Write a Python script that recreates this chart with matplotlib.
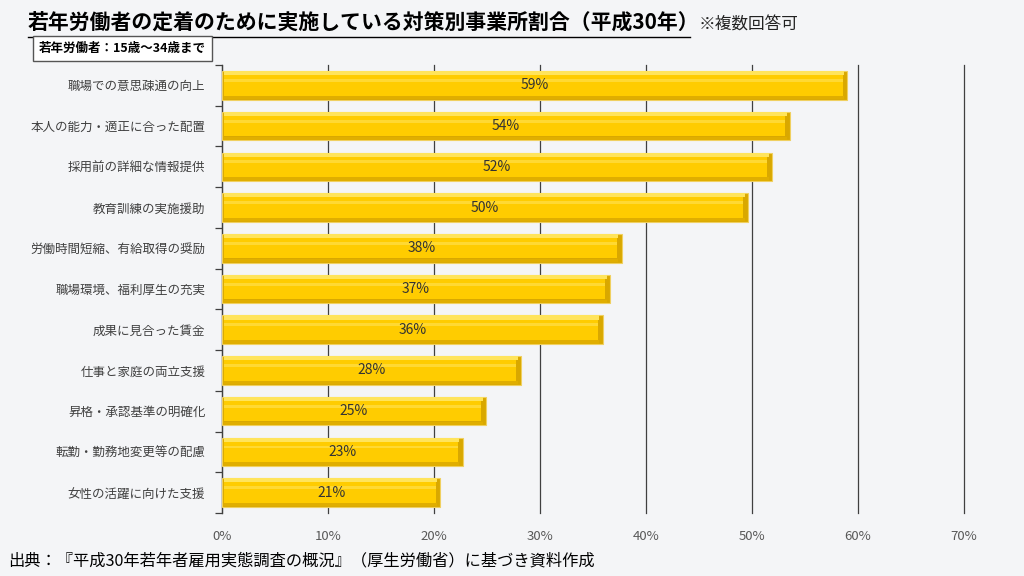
import matplotlib.pyplot as plt
import numpy as np

plt.rcParams['font.family'] = ['Noto Sans CJK JP', 'DejaVu Sans']

# データ（平成30年若年者雇用実態調査）
categories = [
    "職場での意思疎通の向上",
    "本人の能力・適正に合った配置",
    "採用前の詳細な情報提供",
    "教育訓練の実施援助",
    "労働時間短縮、有給取得の奨励",
    "職場環境、福利厚生の充実",
    "成果に見合った賃金",
    "仕事と家庭の両立支援",
    "昇格・承認基準の明確化",
    "転勤・勤務地変更等の配慮",
    "女性の活躍に向けた支援",
]
values = [59.0, 53.6, 51.9, 49.6, 37.7, 36.6, 35.9, 28.2, 24.9, 22.7, 20.6]
xticks = [0, 10, 20, 30, 40, 50, 60, 70]

bg = "#f4f5f7"
fig = plt.figure(figsize=(10.24, 5.76), dpi=100, facecolor=bg)
ax = fig.add_axes([0.2168, 0.1094, 0.7246, 0.7778], facecolor=bg)

y = np.arange(len(categories))
v = np.array(values)
h = 0.7
bv = 0.1    # 上下の面取り
bx = 0.45   # 右端の面取り

# 立体風の棒
ax.barh(y, v, height=h, color="#d9a800", edgecolor="#f0d060", linewidth=0.8, zorder=3)
ax.barh(y - h / 2 + bv / 2, v - bx, left=0.15, height=bv, color="#ffe45c", zorder=4)
ax.barh(y + h / 2 - bv / 2, v - bx, left=0.15, height=bv * 0.8, color="#e0ae00", zorder=4)
ax.barh(y, v - bx - 0.15, left=0.15, height=h - 2 * bv, color="#ffcc00", zorder=5)
ax.barh(y - 0.12, v - bx - 0.15, left=0.15, height=0.07, color="#ffd933", zorder=6)

for yi, vi in zip(y, v):
    ax.text(vi / 2, yi, f"{vi:.0f}%", ha="center", va="center",
            fontsize=10, color="#333333", zorder=7)

ax.set_xlim(0, 70)
ax.set_ylim(len(categories) - 0.5, -0.5)
ax.set_xticks(xticks)
ax.set_xticklabels([f"{t}%" for t in xticks], fontsize=9.5, color="#595959")
ax.tick_params(axis="x", length=0, pad=12)
ax.grid(axis="x", color="#404040", linewidth=0.9, zorder=0)
for gl in ax.get_xgridlines():
    gl.set_clip_on(False)

ax.set_yticks(y)
ax.set_yticklabels(categories, fontsize=9, color="#404040")
ax.set_yticks(np.arange(len(categories) + 1) - 0.5, minor=True)
ax.tick_params(axis="y", which="major", length=0, pad=12)
ax.tick_params(axis="y", which="minor", length=5, color="#404040", width=0.9)

for s in ["top", "right", "bottom"]:
    ax.spines[s].set_visible(False)
ax.spines["left"].set_color("#404040")
ax.spines["left"].set_linewidth(0.9)

# タイトル
fig.text(0.027, 0.96, "若年労働者の定着のために実施している対策別事業所割合（平成30年）",
         fontsize=15, fontweight="bold", color="#000000", va="center")
fig.lines.append(plt.Line2D([0.027, 0.674], [0.935, 0.935], color="#000000",
                            linewidth=1.0, transform=fig.transFigure))
fig.text(0.682, 0.957, "※複数回答可", fontsize=12, color="#222222", va="center")

fig.text(0.038, 0.916, "若年労働者：15歳〜34歳まで", fontsize=9, fontweight="bold",
         color="#000000", va="center",
         bbox=dict(boxstyle="square,pad=0.5", facecolor="white", edgecolor="#555555",
                   linewidth=1.0))

fig.text(0.008, 0.027, "出典：『平成30年若年者雇用実態調査の概況』（厚生労働省）に基づき資料作成",
         fontsize=11.7, color="#000000", va="center")

fig.savefig("out.png", dpi=100, facecolor=bg)
